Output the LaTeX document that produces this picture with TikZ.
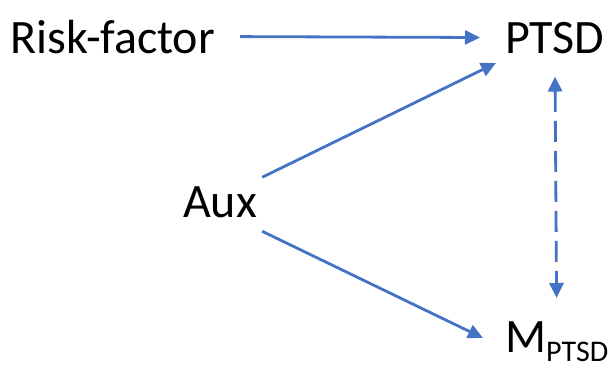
\documentclass[tikz,border=0pt]{standalone}
\usepackage{fontspec}
\setmainfont{Carlito}
\usetikzlibrary{arrows.meta}
\definecolor{arrblue}{HTML}{4472C4}
\begin{document}
\begin{tikzpicture}[x=1pt,y=-1pt,
  lbl/.style={inner sep=0pt,anchor=base west,font=\fontsize{48}{58}\selectfont},
  arr/.style={draw=arrblue,line width=2.8pt,-{Triangle[length=15pt,width=14pt]}},
  darr/.style={draw=arrblue,line width=2.8pt,{Triangle[length=15pt,width=14pt]}-{Triangle[length=15pt,width=14pt]},dash pattern=on 21pt off 9pt}]
\useasboundingbox (0,0) rectangle (613,367);
\node[lbl] (rf) at (10,53) {Risk-factor};
\node[lbl] (ptsd) at (505,53) {PTSD};
\node[lbl] (aux) at (183,217) {Aux};
\node[lbl] (m) at (505,352) {M\raisebox{-9pt}{\fontsize{30}{36}\selectfont PTSD}};
\draw[arr,shorten <=25pt,shorten >=25pt] (rf.east) -- (ptsd.west);
\draw[arr] ([shift={(5,-24.5)}]aux.east) -- ([shift={(-9,10)}]ptsd.base west);
\draw[arr] ([shift={(5,29.5)}]aux.east) -- ([shift={(-22,-14)}]m.base west);
\draw[darr,shorten <=23pt,shorten >=23pt] (ptsd.south) -- (m.north);
\end{tikzpicture}
\end{document}
